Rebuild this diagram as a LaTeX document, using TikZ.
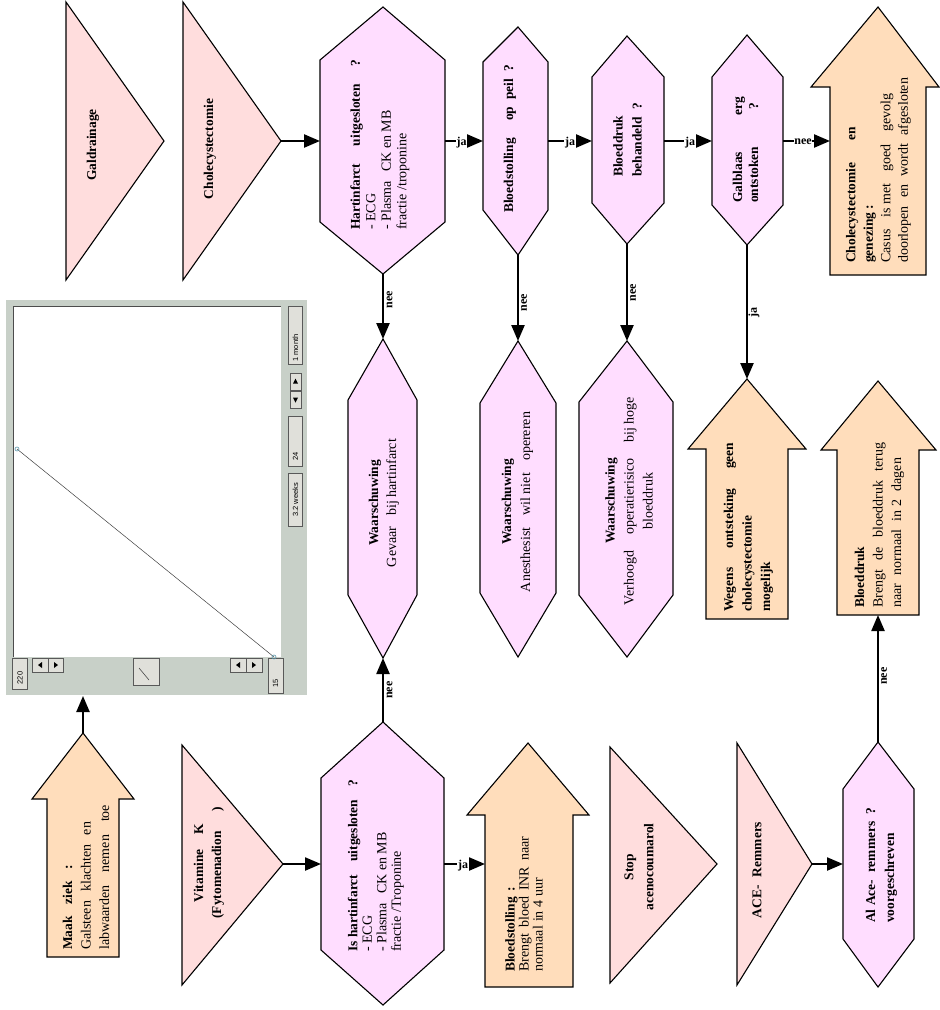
\documentclass[tikz,border=0pt]{standalone}
\usepackage{fontspec}
\setmainfont{Liberation Serif}[BoldFeatures={Scale=0.96}]
\newfontfamily\uifont{Liberation Sans}
\usetikzlibrary{arrows.meta}
\definecolor{trifill}{RGB}{255,221,221}
\definecolor{hexfill}{RGB}{255,221,255}
\definecolor{arrfill}{RGB}{255,221,187}
\definecolor{panelgray}{RGB}{200,208,200}
\definecolor{btngray}{RGB}{224,224,218}
\definecolor{ptcol}{RGB}{90,150,170}
\newcommand{\jl}[2]{\makebox[#1pt][s]{#2}}
\newcommand{\fs}[1]{\fontsize{14}{#1}\selectfont}
\newcommand{\fsp}{\hspace{3.5pt}}
\newcommand{\hexdraw}[7]{\draw[hexa] (#1,#4) -- (#3,#5) -- (#3,#6) -- (#1,#7) -- (#2,#6) -- (#2,#5) -- cycle;}
\newcommand{\uparr}[8]{\draw[bigarr] (#1,#2) -- (#5,#3) -- (#7,#3) -- (#7,#8) -- (#6,#8) -- (#6,#3) -- (#4,#3) -- cycle;}
\begin{document}
\begin{tikzpicture}[x=1pt,y=-1pt,
  outl/.style={draw=black,line width=1.1pt,line join=miter},
  tri/.style={outl,fill=trifill},
  hexa/.style={outl,fill=hexfill},
  bigarr/.style={outl,fill=arrfill},
  conn/.style={line width=2.3pt,-{Triangle[length=16pt,width=13pt]}},
  txt/.style={rotate=90,inner sep=0pt},
  lbl/.style={font=\fontsize{12.5}{14}\selectfont\bfseries,inner sep=0.8pt},
  hlbl/.style={lbl,fill=white},
  vlbl/.style={lbl,rotate=90},
  btn/.style={fill=btngray,draw=gray!70!black,line width=0.6pt},
  uitxt/.style={rotate=90,inner sep=0pt,font=\uifont\fontsize{7.5}{8}\selectfont}
]
\useasboundingbox (0,0) rectangle (940,1010);

% ---------- triangles ----------
\draw[tri] (66,2) -- (164,141) -- (66,280) -- cycle;
\draw[tri] (183,2) -- (281,141) -- (183,280) -- cycle;
\draw[tri] (182,745) -- (283,864) -- (182,985) -- cycle;
\draw[tri] (610,747) -- (717,864) -- (610,983) -- cycle;
\draw[tri] (737,743) -- (812,864) -- (737,985) -- cycle;

% ---------- hexagons ----------
\hexdraw{383}{320}{445}{7}{60}{222}{274}
\hexdraw{518}{483}{548}{27}{62}{210}{255}
\hexdraw{627}{592}{664}{36}{77}{203}{244}
\hexdraw{747}{712}{783}{35}{77}{205}{245}
\hexdraw{383}{348}{417}{339}{400}{595}{658}
\hexdraw{518}{480}{556}{341}{403}{593}{657}
\hexdraw{627}{579}{673}{341}{402}{595}{657}
\hexdraw{383}{321}{444}{722}{778}{950}{1005}
\hexdraw{878}{843}{914}{742}{789}{939}{987}

% ---------- block arrows ----------
\uparr{878}{7}{87}{811}{939}{830}{926}{275}
\uparr{747}{379}{449}{688}{806}{706}{788}{619}
\uparr{878}{381}{450}{821}{936}{837}{919}{615}
\uparr{83}{733}{799}{32}{134}{47}{119}{957}
\uparr{528}{743}{815}{467}{589}{485}{573}{987}

% ---------- screenshot panel ----------
\fill[panelgray] (6,300) rectangle (307,695);
\fill[white] (13,306) rectangle (281,657);
\draw[gray!60!black,line width=0.8pt] (13,657) -- (13,306) -- (281,306);
\draw[btn] (288,306) rectangle (302,364);
\node[uitxt] (b1m) at (295.5,348) {1 month};
\draw[btn] (290,373) rectangle (301,390);
\fill (295.5,378.5) -- (293,383.5) -- (298,383.5) -- cycle;
\draw[btn] (290,391) rectangle (301,408);
\fill (295.5,402.5) -- (293,397.5) -- (298,397.5) -- cycle;
\draw[btn] (288,416) rectangle (302,466);
\node[uitxt] (b24) at (295.5,456) {24};
\draw[btn] (288,473) rectangle (302,526);
\node[uitxt] (b32) at (295.5,500) {3.2 weeks};
\draw[btn] (12,658) rectangle (27,689);
\node[uitxt] (b220) at (20,678) {220};
\draw[btn] (32,658) rectangle (48,672);
\fill (38,665) -- (42,662) -- (42,668) -- cycle;
\draw[btn] (48,658) rectangle (63,672);
\fill (58,665) -- (54,662) -- (54,668) -- cycle;
\draw[btn] (133,658) rectangle (159,685);
\draw[gray!60!black,line width=0.6pt] (139,668) -- (149,680);
\draw[btn] (230,658) rectangle (246,672);
\fill (236,665) -- (240,662) -- (240,668) -- cycle;
\draw[btn] (246,658) rectangle (262,672);
\fill (256,665) -- (252,662) -- (252,668) -- cycle;
\draw[btn] (268,658) rectangle (283,693);
\node[uitxt] (b15) at (275.5,683) {15};
\coordinate (pl1) at (17,449);
\coordinate (pl2) at (274,657);
\draw[black!75,line width=0.5pt] (pl1) -- (pl2);
\draw[ptcol,line width=0.6pt] (pl1) circle[radius=2pt];
\draw[ptcol,line width=0.6pt] (pl2) circle[radius=2pt];

% ---------- texts ----------
\node[txt,font=\fs{15}\bfseries] (tGal) at (93,145) {Galdrainage};
\node[txt,font=\fs{15}\bfseries] (tChol) at (210,149) {Cholecystectomie};
\node[txt,font=\fs{15.5},align=left,anchor=west] (tH1) at (380,230)
  {\jl{170}{\bfseries Hartinfarct uitgesloten ?}\\- ECG\\- Plasma\hspace{6pt} CK en MB\\fractie /troponine};
\node[txt,font=\fs{15}\bfseries,anchor=west] (tH2) at (510,213)
  {\jl{148}{Bloedstolling\hspace{10pt} op peil ?}};
\node[txt,font=\fs{19}\bfseries,align=left,anchor=west] (tH3) at (627.5,177)
  {Bloeddruk\\\jl{74}{behandeld ?}};
\node[txt,font=\fs{16}\bfseries,align=left,anchor=west] (tH4) at (745.5,203)
  {\jl{106}{Galblaas erg}\\\jl{100}{ontstoken ?}};
\node[txt,font=\fs{17.5},align=left,anchor=west] (tA1) at (878.5,263)
  {\jl{136}{\bfseries Cholecystectomie en}\\{\bfseries genezing :}\\\jl{169}{Casus is\fsp met goed gevolg}\\\jl{185}{doorlopen en wordt afgesloten}};
\node[txt,font=\fs{18},align=center] (tW1) at (384,503)
  {\textbf{Waarschuwing}\\\jl{128}{Gevaar bij\fsp hartinfarct}};
\node[txt,font=\fs{19},align=center] (tW2) at (517.5,502)
  {\textbf{Waarschuwing}\\\jl{180}{Anesthesist wil\fsp niet opereren}};
\node[txt,font=\fs{19},align=center] (tW3) at (629,501)
  {\textbf{Waarschuwing}\\\jl{208}{Verhoogd operatierisico bij\fsp hoge}\\bloeddruk};
\node[txt,font=\fs{18.5}\bfseries,align=left,anchor=west] (tA2) at (748.5,612)
  {\jl{169}{Wegens ontsteking geen}\\cholecystectomie\\mogelijk};
\node[txt,font=\fs{18.5},align=left,anchor=west] (tA3) at (879.5,608)
  {\textbf{Bloeddruk}\\\jl{165}{Brengt de bloeddruk terug}\\\jl{150}{naar normaal in\fsp 2 dagen}};
\node[txt,font=\fs{18.5},align=left,anchor=west] (tA4) at (86,950)
  {\jl{85}{\bfseries Maak ziek :}\\\jl{128}{Galsteen klachten en}\\\jl{145}{labwaarden nemen toe}};
\node[txt,font=\fs{18}\bfseries,align=center] (tT3) at (209,863)
  {\jl{78}{Vitamine K}\\\jl{111}{(Fytomenadion )}};
\node[txt,font=\fs{14.5},align=left,anchor=west] (tIH) at (376,952)
  {\jl{172}{\bfseries Is\fsp hartinfarct uitgesloten ?}\\- ECG\\- Plasma\hspace{6pt} CK en MB\\fractie /Troponine};
\node[txt,font=\fs{14},align=left,anchor=west] (tA5) at (524,972)
  {\jl{85}{\bfseries Bloedstolling :}\\\jl{135}{Brengt bloed INR naar}\\\jl{94}{normaal in\fsp 4 uur}};
\node[txt,font=\fs{20}\bfseries,align=center] (tT4) at (639,867)
  {Stop\\acenocoumarol};
\node[txt,font=\fs{15}\bfseries] (tT5) at (757,870) {ACE-\hspace{5pt} Remmers};
\node[txt,font=\fs{19}\bfseries,align=left,anchor=west] (tAH) at (881.5,923)
  {\jl{115}{Al\fsp Ace- remmers ?}\\voorgeschreven};

% ---------- connector end points ----------
\coordinate (T2a) at (281,141);  \coordinate (H1l) at (320,141);
\coordinate (H1r) at (445,141);  \coordinate (H2l) at (483,141);
\coordinate (H2r) at (548,141);  \coordinate (H3l) at (592,141);
\coordinate (H3r) at (664,141);  \coordinate (H4l) at (712,141);
\coordinate (H4r) at (783,141);  \coordinate (A1l) at (830,141);
\coordinate (H1b) at (383,274);  \coordinate (W1t) at (383,339);
\coordinate (H2b) at (518,255);  \coordinate (W2t) at (518,341);
\coordinate (H3b) at (627,244);  \coordinate (W3t) at (627,341);
\coordinate (H4b) at (747,245);  \coordinate (A2t) at (747,379);
\coordinate (IHt) at (383,722);  \coordinate (W1b) at (383,658);
\coordinate (AHt) at (878,742);  \coordinate (A3b) at (878,615);
\coordinate (A4t) at (83,733);   \coordinate (PNb) at (83,696);
\coordinate (T3a) at (283,864);  \coordinate (IHl) at (321,864);
\coordinate (IHr) at (444,864);  \coordinate (A5l) at (485,864);
\coordinate (T5a) at (812,864);  \coordinate (AHl) at (843,864);

% ---------- connectors ----------
\draw[conn] (T2a) -- (H1l);
\draw[conn] (H1r) -- (H2l);
\draw[conn] (H2r) -- (H3l);
\draw[conn] (H3r) -- (H4l);
\draw[conn] (H4r) -- (A1l);
\draw[conn] (H1b) -- (W1t);
\draw[conn] (H2b) -- (W2t);
\draw[conn] (H3b) -- (W3t);
\draw[conn] (H4b) -- (A2t);
\draw[conn] (IHt) -- (W1b);
\draw[conn] (AHt) -- (A3b);
\draw[conn] (A4t) -- (PNb);
\draw[conn] (T3a) -- (IHl);
\draw[conn] (IHr) -- (A5l);
\draw[conn] (T5a) -- (AHl);

% ---------- connector labels ----------
\node[hlbl] (l1) at (461.5,143) {ja};
\node[hlbl] (l2) at (570,143) {ja};
\node[hlbl] (l3) at (690,143) {ja};
\node[hlbl] (l4) at (803,142) {nee};
\node[hlbl] (l5) at (463,866) {ja};
\node[vlbl] (l6) at (389.5,300) {nee};
\node[vlbl] (l7) at (524,303) {nee};
\node[vlbl] (l8) at (633,293) {nee};
\node[vlbl] (l9) at (754,312) {ja};
\node[vlbl] (l10) at (389.5,690) {nee};
\node[vlbl] (l11) at (884,676) {nee};
\end{tikzpicture}
\end{document}
